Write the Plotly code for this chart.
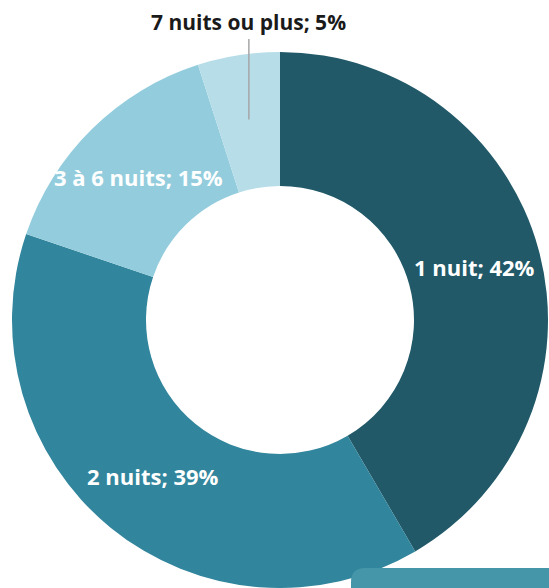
import math
import plotly.graph_objects as go

categories = ["1 nuit", "2 nuits", "3 à 6 nuits", "7 nuits ou plus"]
values = [42, 39, 15, 5]
colors = ["#215968", "#31859C", "#93CDDD", "#B7DDE8"]
label_colors = ["white", "white", "white", "#1a1a1a"]

W, H = 549, 588
ml, mr, mt, mb = 12, 1, 52, 0
hole = 0.5
pw, ph = W - ml - mr, H - mt - mb


def px2x(px):
    return (px - ml) / pw


def px2y(py):
    return 1 - (py - mt) / ph


fig = go.Figure(go.Pie(
    labels=categories, values=values, sort=False, direction="clockwise",
    rotation=0, hole=hole, textinfo="none", hoverinfo="label+percent",
    marker=dict(colors=colors, line=dict(width=0)), showlegend=False,
))

# label positions computed from data (mid-angle of each slice, mid-radius)
R = min(pw, ph) / 2
cx, cy = ml + pw / 2, mt + ph / 2
total = sum(values)
cum = 0
annotations = []
shapes = []
for i, (c, v) in enumerate(zip(categories, values)):
    mid = (cum + v / 2) / total * 2 * math.pi
    cum += v
    rr = R * (1 + hole) / 2
    x = cx + rr * math.sin(mid)
    y = cy - rr * math.cos(mid)
    text = f"<b>{c}; {round(v / total * 100)}%</b>"
    if i == len(values) - 1:
        ty = 22
        annotations.append(dict(x=px2x(x), y=px2y(ty), xref="paper", yref="paper",
                                xanchor="center", yanchor="middle",
                                text=text, showarrow=False,
                                font=dict(size=21, color=label_colors[i], family="Open Sans")))
        shapes.append(dict(type="line", xref="paper", yref="paper",
                           x0=px2x(x), x1=px2x(x), y0=px2y(39), y1=px2y(y - 2),
                           line=dict(color="#A6A6A6", width=1.5)))
    else:
        annotations.append(dict(x=px2x(x), y=px2y(y), xref="paper", yref="paper",
                                xanchor="center", yanchor="middle",
                                text=text, showarrow=False,
                                font=dict(size=22, color=label_colors[i], family="Open Sans")))

# decorative rounded bar at bottom right
x0, y0, rc = 351, 568, 14
path = (f"M {px2x(x0)},{px2y(H + 5)} L {px2x(x0)},{px2y(y0 + rc)} "
        f"Q {px2x(x0)},{px2y(y0)} {px2x(x0 + rc)},{px2y(y0)} "
        f"L {px2x(W + 5)},{px2y(y0)} L {px2x(W + 5)},{px2y(H + 5)} Z")
shapes.append(dict(type="path", xref="paper", yref="paper", path=path,
                   fillcolor="#4596A8", line=dict(width=0), layer="above"))

fig.update_layout(
    width=W, height=H, margin=dict(l=ml, r=mr, t=mt, b=mb),
    paper_bgcolor="white", plot_bgcolor="white",
    annotations=annotations, shapes=shapes,
)
fig.write_html("out.html", config={"displayModeBar": False},
               post_script="document.body.style.margin='0';document.body.style.overflow='hidden';")
